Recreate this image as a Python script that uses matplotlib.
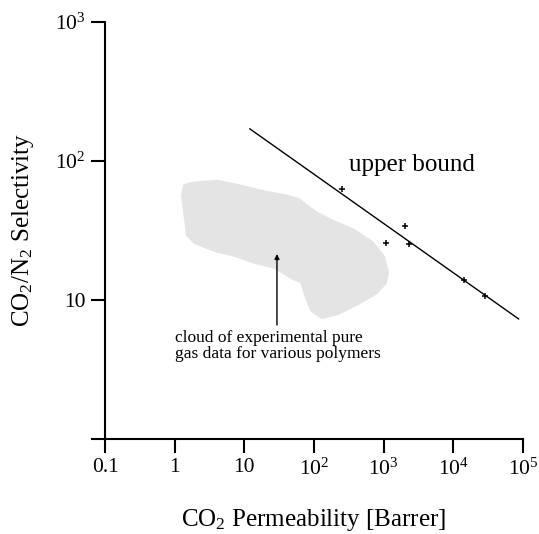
import matplotlib
matplotlib.use('Agg')
import matplotlib.pyplot as plt
import numpy as np

plt.rcParams['font.family'] = ['Liberation Serif', 'DejaVu Serif']
plt.rcParams['mathtext.default'] = 'regular'

# upper bound line (CO2 permeability, selectivity)
bound_perm = [12.0, 87000.0]
bound_sel = [170.0, 7.3]

# pure gas data points near the bound
pts_perm = [249, 2014, 1099, 2323, 14160, 28300]
pts_sel = [62.6, 34.1, 25.8, 25.2, 13.9, 10.7]

# outline of the cloud of experimental data
cloud_perm = [1.317, 1.406, 1.774, 2.468, 4.19, 9.26, 17.9, 42.3, 58.9, 103.3,
              200, 351, 680, 978, 1116, 1044, 751, 428, 221, 130, 93.6, 79.3,
              67.2, 48.3, 27.6, 14.2, 7.34, 3.79, 1.957, 1.553]
cloud_sel = [56.9, 66.1, 68.3, 69.5, 70.6, 65.0, 59.8, 55.1, 52.4, 42.3,
             35.8, 31.9, 25.7, 20.4, 15.9, 13.3, 11.2, 9.52, 8.06, 7.55, 8.47, 10.5,
             13.5, 14.6, 17.3, 18.8, 21.1, 22.9, 26.1, 29.4]

xticks = [0.1, 1, 10, 1e2, 1e3, 1e4, 1e5]
xticklabels = ['0.1', '1', '10', '$10^2$', '$10^3$', '$10^4$', '$10^5$']
yticks = [1, 10, 1e2, 1e3]
yticklabels = ['', '10', '$10^2$', '$10^3$']

fig = plt.figure(figsize=(5.39, 5.34), dpi=100)
ax = fig.add_axes([0.195, 0.178, 0.775, 0.781])

# cloud, with a thick same-colour edge to round off the corners
ax.fill(cloud_perm, cloud_sel, facecolor='#e4e4e4', edgecolor='#e4e4e4',
        lw=3, joinstyle='round')
ax.plot(bound_perm, bound_sel, color='black', lw=1.0)
ax.plot(pts_perm, pts_sel, ls='none', marker='+', ms=5, mew=1.1, color='black')

ax.annotate('', xy=(29.4, 21.4), xytext=(29.4, 6.6),
            arrowprops=dict(arrowstyle='-|>', color='black', lw=1.0,
                            mutation_scale=7, shrinkA=0, shrinkB=0))
ax.text(1.0, 4.65, 'cloud of experimental pure\ngas data for various polymers',
        fontsize=12.5, ha='left', va='center', linespacing=1.05)
ax.text(318, 93, 'upper bound', fontsize=18, ha='left', va='center')

ax.set_xscale('log')
ax.set_yscale('log')
ax.set_xlim(0.1, 1e5)
ax.set_ylim(1, 1e3)
ax.set_xticks(xticks)
ax.set_xticklabels(xticklabels)
ax.set_yticks(yticks)
ax.set_yticklabels(yticklabels)
ax.minorticks_off()

for s in ['top', 'right']:
    ax.spines[s].set_visible(False)
for s in ['left', 'bottom']:
    ax.spines[s].set_linewidth(1.5)
ax.tick_params(length=10, width=1.5, labelsize=15.5, pad=4)

ax.set_xlabel('CO$_2$ Permeability [Barrer]', fontsize=18, labelpad=20)
ax.set_ylabel('CO$_2$/N$_2$ Selectivity', fontsize=18, labelpad=14)

fig.savefig('out.png', dpi=100)
